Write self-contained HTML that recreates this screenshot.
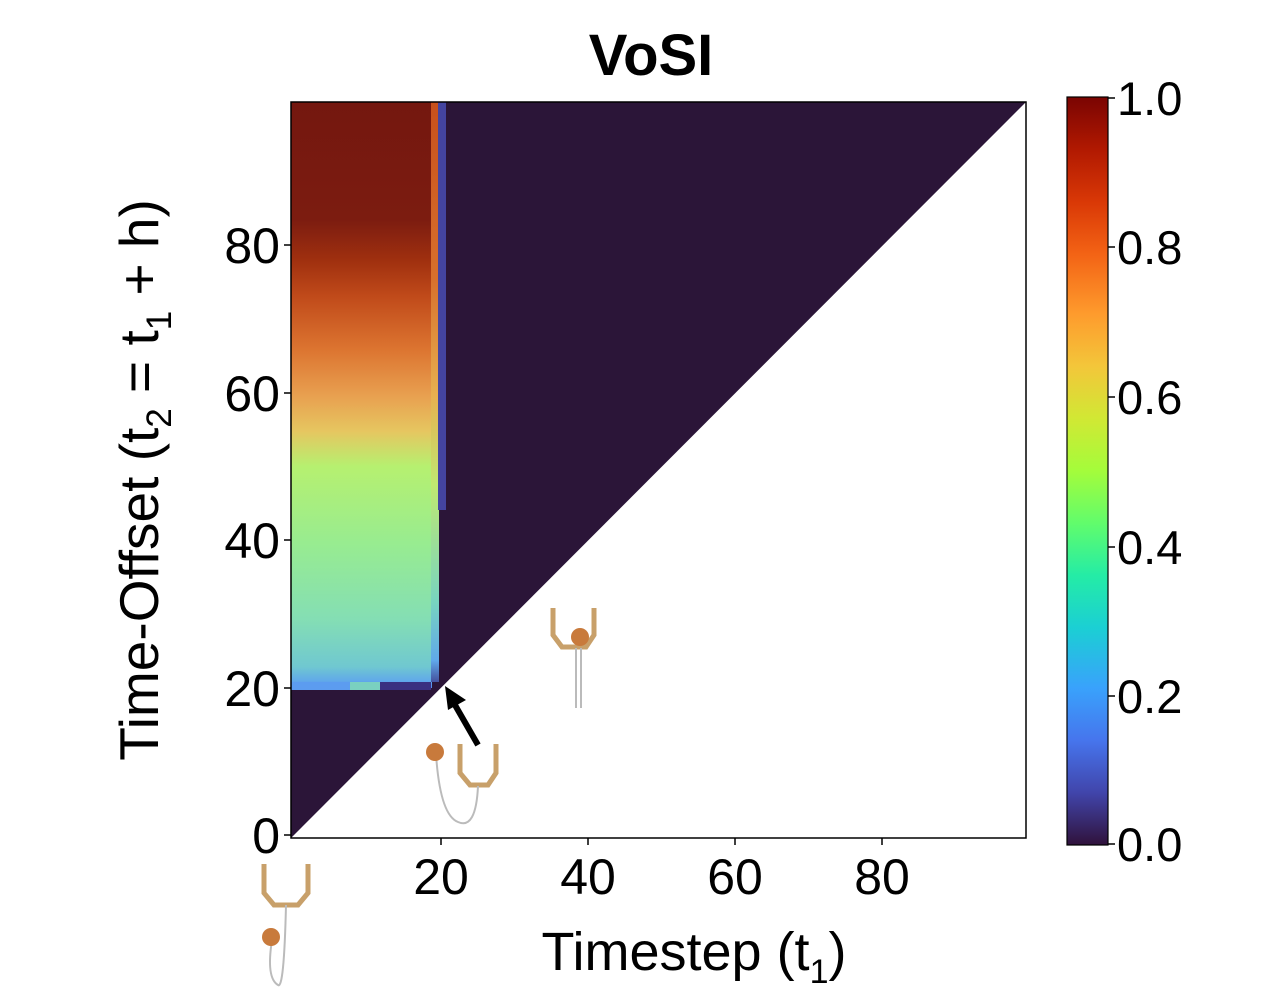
<!DOCTYPE html>
<html><head><meta charset="utf-8"><style>
html,body{margin:0;padding:0;background:#fff;}
svg{display:block;font-family:"Liberation Sans","DejaVu Sans",sans-serif;}
</style></head><body>
<svg width="1270" height="1004" viewBox="0 0 1270 1004" xmlns="http://www.w3.org/2000/svg">
<defs>
<linearGradient id="hg" gradientUnits="userSpaceOnUse" x1="0" y1="102" x2="0" y2="690">
<stop offset="0" stop-color="#74170f"/>
<stop offset="0.2" stop-color="#7c1c10"/>
<stop offset="0.27" stop-color="#a0300f"/>
<stop offset="0.33" stop-color="#c04a1a"/>
<stop offset="0.42" stop-color="#dc7430"/>
<stop offset="0.5" stop-color="#e8a050"/>
<stop offset="0.56" stop-color="#e6c660"/>
<stop offset="0.62" stop-color="#b6f070"/>
<stop offset="0.75" stop-color="#98ec90"/>
<stop offset="0.88" stop-color="#84deb4"/>
<stop offset="0.96" stop-color="#70c8d0"/>
<stop offset="0.985" stop-color="#60a8ea"/>
<stop offset="1" stop-color="#5080f0"/>
</linearGradient>
<linearGradient id="cg" gradientUnits="userSpaceOnUse" x1="0" y1="102" x2="0" y2="690">
<stop offset="0" stop-color="#c8501c"/>
<stop offset="0.3" stop-color="#d8702c"/>
<stop offset="0.5" stop-color="#e8b050"/>
<stop offset="0.65" stop-color="#c0e870"/>
<stop offset="0.85" stop-color="#78d4c0"/>
<stop offset="0.95" stop-color="#60a8ea"/>
<stop offset="1" stop-color="#3a3080"/>
</linearGradient>
<linearGradient id="cb" x1="0" y1="1" x2="0" y2="0">
<stop offset="0" stop-color="#30123b"/>
<stop offset="0.07" stop-color="#4145ab"/>
<stop offset="0.14" stop-color="#4675ed"/>
<stop offset="0.21" stop-color="#39a2fc"/>
<stop offset="0.29" stop-color="#1bcfd4"/>
<stop offset="0.36" stop-color="#24eca6"/>
<stop offset="0.43" stop-color="#61fc6c"/>
<stop offset="0.5" stop-color="#a4fc3b"/>
<stop offset="0.57" stop-color="#d1e834"/>
<stop offset="0.64" stop-color="#f3c63a"/>
<stop offset="0.71" stop-color="#fe9b2d"/>
<stop offset="0.79" stop-color="#f36315"/>
<stop offset="0.86" stop-color="#d93806"/>
<stop offset="0.93" stop-color="#b11901"/>
<stop offset="1" stop-color="#7a0402"/>
</linearGradient>
</defs>

<text x="651" y="75" font-size="58" font-weight="bold" text-anchor="middle">VoSI</text>

<polygon points="291,102 1026,102 291,838" fill="#2b1538"/>
<rect x="291" y="102" width="141" height="586" fill="url(#hg)"/>
<rect x="431" y="102" width="8" height="580" fill="url(#cg)"/>
<rect x="438" y="102" width="8" height="408" fill="#4444a0"/>
<rect x="291" y="682" width="140" height="8" fill="#5c9cf0"/>
<rect x="350" y="682" width="30" height="8" fill="#7ad0c0"/>
<rect x="380" y="682" width="51" height="8" fill="#3a3080"/>

<rect x="291" y="102" width="735" height="736" fill="none" stroke="#000" stroke-width="1.5"/>

<g stroke="#000" stroke-width="1.5">
<line x1="284" y1="835" x2="291" y2="835"/><line x1="284" y1="688" x2="291" y2="688"/>
<line x1="284" y1="540" x2="291" y2="540"/><line x1="284" y1="393" x2="291" y2="393"/>
<line x1="284" y1="245" x2="291" y2="245"/>
<line x1="441" y1="838" x2="441" y2="845"/><line x1="588" y1="838" x2="588" y2="845"/>
<line x1="735" y1="838" x2="735" y2="845"/><line x1="882" y1="838" x2="882" y2="845"/>
</g>
<g font-size="50" text-anchor="end">
<text x="280" y="853">0</text><text x="280" y="706">20</text><text x="280" y="558">40</text>
<text x="280" y="411">60</text><text x="280" y="263">80</text>
</g>
<g font-size="50" text-anchor="middle">
<text x="441" y="894">20</text><text x="588" y="894">40</text>
<text x="735" y="894">60</text><text x="882" y="894">80</text>
</g>
<text x="694" y="970" font-size="54" text-anchor="middle">Timestep (t<tspan font-size="34" dy="13">1</tspan><tspan dy="-13">)</tspan></text>
<text transform="translate(158,480) rotate(-90)" font-size="55" text-anchor="middle">Time-Offset (t<tspan font-size="35" dy="13">2</tspan><tspan dy="-13"> = t</tspan><tspan font-size="35" dy="13">1</tspan><tspan dy="-13"> + h)</tspan></text>

<rect x="1067" y="97" width="41" height="748" fill="url(#cb)" stroke="#000" stroke-width="1.2"/>
<g stroke="#000" stroke-width="1.5">
<line x1="1108" y1="98" x2="1115" y2="98"/><line x1="1108" y1="247" x2="1115" y2="247"/>
<line x1="1108" y1="397" x2="1115" y2="397"/><line x1="1108" y1="547" x2="1115" y2="547"/>
<line x1="1108" y1="696" x2="1115" y2="696"/><line x1="1108" y1="844" x2="1115" y2="844"/>
</g>
<g font-size="47">
<text x="1117" y="115">1.0</text><text x="1117" y="264">0.8</text><text x="1117" y="414">0.6</text>
<text x="1117" y="564">0.4</text><text x="1117" y="713">0.2</text><text x="1117" y="861">0.0</text>
</g>

<line x1="478" y1="745" x2="455" y2="705" stroke="#000" stroke-width="6"/>
<polygon points="445,686 466,700 448,710" fill="#000"/>

<g fill="none" stroke="#c8a06a" stroke-width="5">
<path d="M264,864 V893 L274,905 H298 L308,893 V864"/>
<path d="M460,744 V773 L470,785 H488 L496,773 V744"/>
<path d="M553,608 V635 L562,647 H586 L594,635 V608"/>
</g>
<g fill="none" stroke="#bbb" stroke-width="2">
<path d="M286,905 Q284,990 278,985 Q266,978 272,940"/>
<path d="M478,786 Q476,830 458,822 Q440,815 436,754"/>
<path d="M576,648 V708 M581,648 V708"/>
</g>
<g fill="#c87a3c">
<circle cx="271" cy="937" r="9"/><circle cx="435" cy="752" r="9"/><circle cx="580" cy="637" r="9"/>
</g>
</svg>
</body></html>
